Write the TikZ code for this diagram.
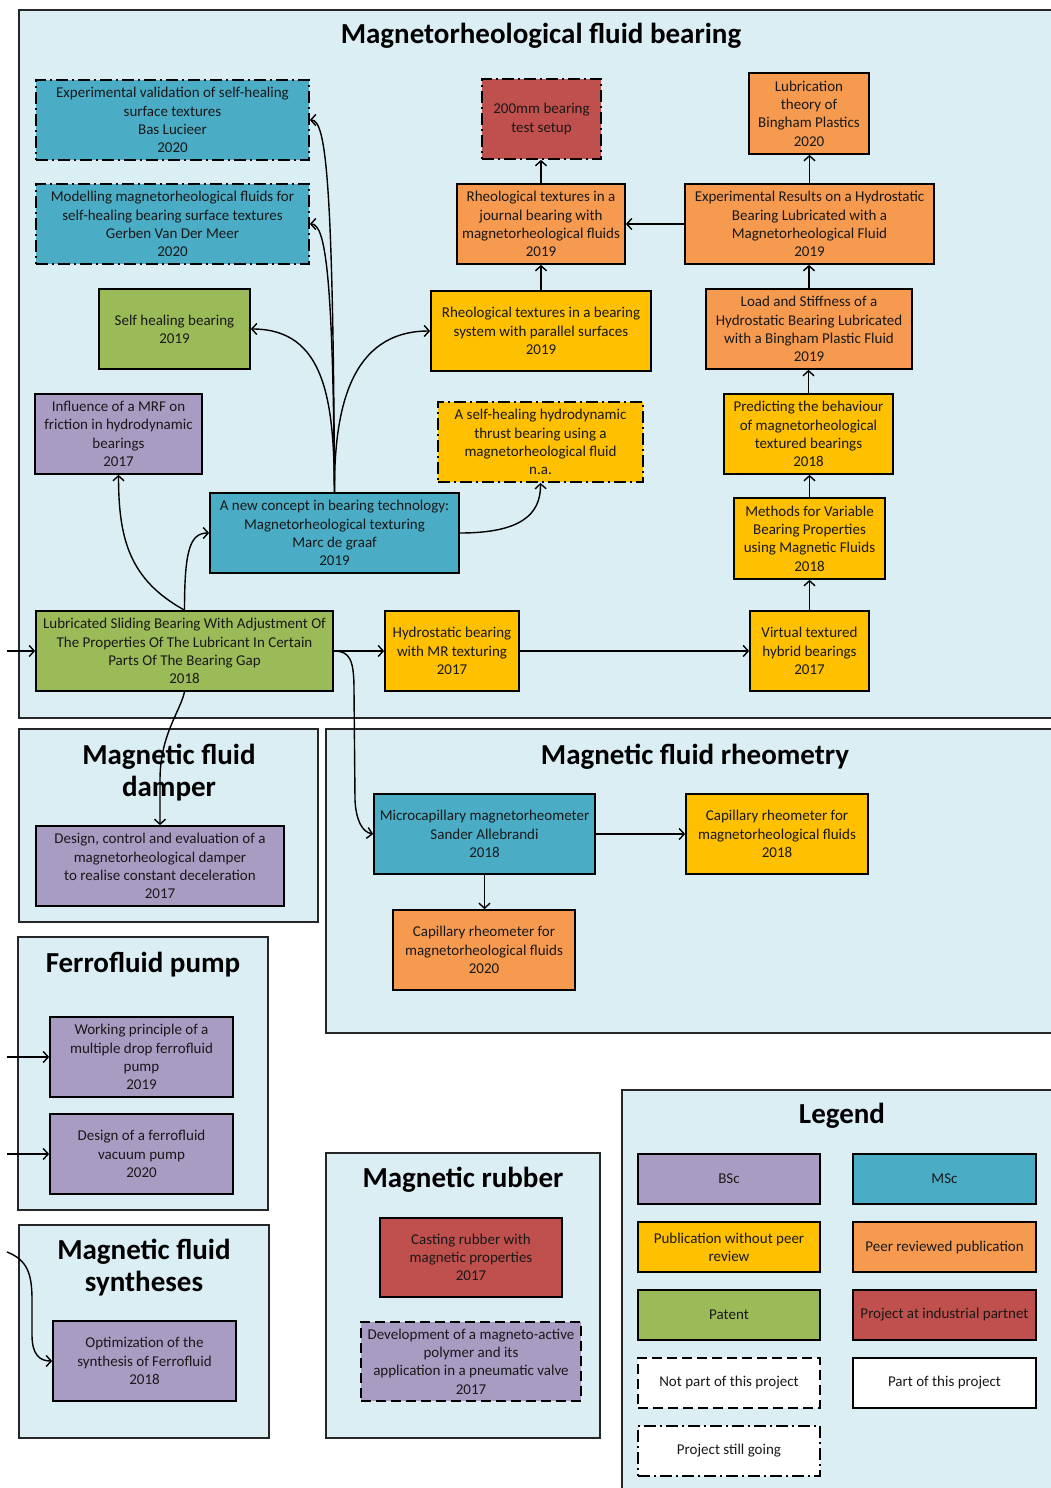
\documentclass[tikz,border=0pt]{standalone}
\usepackage{fontspec}
\setmainfont{Carlito}
\usetikzlibrary{arrows.meta}
\definecolor{bgblue}{HTML}{DAEEF3}
\definecolor{bsc}{HTML}{A99CC2}
\definecolor{msc}{HTML}{4BACC6}
\definecolor{pubyel}{HTML}{FFC000}
\definecolor{peerorg}{HTML}{F69A50}
\definecolor{patgreen}{HTML}{9BBB59}
\definecolor{indred}{HTML}{C0504D}
\newcommand\mkbox[7]{\node[#2, minimum width={#5-#3}, minimum height={#6-#4}] (#1) at ({(#3+#5)/2},{(#4+#6)/2}) {#7};}
\tikzset{
  cont/.style={draw=black!85, line width=1.5pt, fill=bgblue},
  box/.style={draw=black, line width=1.7pt, align=center, inner sep=0pt, text=black!90,
    font=\fontsize{15}{18.3}\selectfont},
  bscb/.style={box, fill=bsc},
  mscb/.style={box, fill=msc},
  yelb/.style={box, fill=pubyel},
  orgb/.style={box, fill=peerorg},
  greb/.style={box, fill=patgreen},
  redb/.style={box, fill=indred},
  whtb/.style={box, fill=white},
  dashdotb/.style={dash pattern=on 12pt off 4pt on 2pt off 4pt},
  dashb/.style={dash pattern=on 10pt off 5pt},
  ttl/.style={font=\fontsize{29}{32}\selectfont\bfseries, align=center, inner sep=0pt},
  arr/.style={line width=1.4pt, -{Straight Barb[length=5pt,width=11pt,line width=1.4pt]}},
}
\begin{document}
\begin{tikzpicture}[x=1pt,y=-1pt]
\clip (0,0) rectangle (1051,1488);
\fill[white] (0,0) rectangle (1051,1488);
% containers
\draw[cont] (19,10) rectangle (1070,718);
\draw[cont] (19,729) rectangle (318,922);
\draw[cont] (326,729) rectangle (1070,1033);
\draw[cont] (18,937) rectangle (268,1210);
\draw[cont] (19,1225) rectangle (269,1438);
\draw[cont] (326,1153) rectangle (600,1438);
\draw[cont] (622,1090) rectangle (1070,1500);
% titles
\node[ttl] (t1) at (541,36) {Magnetorheological fluid bearing};
\node[ttl] (t2) at (169,773) {Magnetic fluid\\damper};
\node[ttl] (t3) at (695,757) {Magnetic fluid rheometry};
\node[ttl] (t4) at (143,965) {Ferrofluid pump};
\node[ttl] (t5) at (144,1268) {Magnetic fluid\\syntheses};
\node[ttl] (t6) at (463,1180) {Magnetic rubber};
\node[ttl] (t7) at (842,1116) {Legend};
% bearing nodes
\mkbox{expval}{mscb,dashdotb}{36}{80}{309}{160}{Experimental validation of self-healing\\surface textures\\Bas Lucieer\\2020}
\mkbox{modelling}{mscb,dashdotb}{36}{184}{309}{264}{Modelling magnetorheological fluids for\\self-healing bearing surface textures\\Gerben Van Der Meer\\2020}
\mkbox{selfheal}{greb}{99}{289}{250}{369}{Self healing bearing\\2019}
\mkbox{influence}{bscb}{35}{394}{202}{474}{Influence of a MRF on\\friction in hydrodynamic\\bearings\\2017}
\mkbox{newconcept}{mscb}{210}{493}{459}{573}{A new concept in bearing technology:\\Magnetorheological texturing\\Marc de graaf\\2019}
\mkbox{lubsliding}{greb}{36}{611}{333}{691}{Lubricated Sliding Bearing With Adjustment Of\\The Properties Of The Lubricant In Certain\\Parts Of The Bearing Gap\\2018}
\mkbox{hydroMR}{yelb}{385}{611}{519}{691}{Hydrostatic bearing\\with MR texturing\\2017}
\mkbox{virtual}{yelb}{750}{611}{869}{691}{Virtual textured\\hybrid bearings\\2017}
\mkbox{methods}{yelb}{734}{498}{885}{579}{Methods for Variable\\Bearing Properties\\using Magnetic Fluids\\2018}
\mkbox{predicting}{yelb}{724}{394}{893}{474}{Predicting the behaviour\\of magnetorheological\\textured bearings\\2018}
\mkbox{load}{orgb}{706}{289}{912}{369}{Load and Stiffness of a\\Hydrostatic Bearing Lubricated\\with a Bingham Plastic Fluid\\2019}
\mkbox{expresults}{orgb}{685}{184}{934}{264}{Experimental Results on a Hydrostatic\\Bearing Lubricated with a\\Magnetorheological Fluid\\2019}
\mkbox{lubtheory}{orgb}{749}{73}{869}{154}{Lubrication\\theory of\\Bingham Plastics\\2020}
\mkbox{journal}{orgb}{457}{184}{625}{264}{Rheological textures in a\\journal bearing with\\magnetorheological fluids\\2019}
\mkbox{mmbearing}{redb,dashdotb}{482}{79}{601}{159}{200mm bearing\\test setup}
\mkbox{parallel}{yelb}{431}{291}{651}{371}{Rheological textures in a bearing\\system with parallel surfaces\\2019}
\mkbox{shhydro}{yelb,dashdotb}{438}{402}{643}{482}{A self-healing hydrodynamic\\thrust bearing using a\\magnetorheological fluid\\n.a.}
% other groups
\mkbox{damper}{bscb}{36}{826}{284}{906}{Design, control and evaluation of a\\magnetorheological damper\\to realise constant deceleration\\2017}
\mkbox{micro}{mscb}{374}{794}{595}{874}{Microcapillary magnetorheometer\\Sander Allebrandi\\2018}
\mkbox{capA}{yelb}{686}{794}{868}{874}{Capillary rheometer for\\magnetorheological fluids\\2018}
\mkbox{capB}{orgb}{393}{910}{575}{990}{Capillary rheometer for\\magnetorheological fluids\\2020}
\mkbox{working}{bscb}{50}{1017}{233}{1097}{Working principle of a\\multiple drop ferrofluid\\pump\\2019}
\mkbox{vacuum}{bscb}{50}{1114}{233}{1194}{Design of a ferrofluid\\vacuum pump\\2020}
\mkbox{optim}{bscb}{53}{1321}{236}{1401}{Optimization of the\\synthesis of Ferrofluid\\2018}
\mkbox{casting}{redb}{380}{1218}{562}{1297}{Casting rubber with\\magnetic properties\\2017}
\mkbox{develop}{bscb,dashb}{361}{1322}{581}{1401}{Development of a magneto-active\\polymer and its\\application in a pneumatic valve\\2017}
% legend
\mkbox{lgA}{bscb}{638}{1154}{820}{1204}{BSc}
\mkbox{lgB}{mscb}{853}{1154}{1036}{1204}{MSc}
\mkbox{lgC}{yelb}{638}{1222}{820}{1272}{Publication without peer\\review}
\mkbox{lgD}{orgb}{853}{1222}{1036}{1272}{Peer reviewed publication}
\mkbox{lgE}{greb}{638}{1290}{820}{1340}{Patent}
\mkbox{lgF}{redb}{853}{1290}{1036}{1340}{Project at industrial partnet}
\mkbox{lgG}{whtb,dashb}{638}{1358}{820}{1408}{Not part of this project}
\mkbox{lgH}{whtb}{853}{1358}{1036}{1408}{Part of this project}
\mkbox{lgI}{whtb,dashdotb}{638}{1426}{820}{1476}{Project still going}
% free ends
\coordinate (inA) at (7,651);
\coordinate (inB) at (7,1057);
\coordinate (inC) at (7,1154);
\coordinate (inD) at (7,1252);
% connectors
\draw[arr] (inA) -- (lubsliding.west);
\draw[arr] (lubsliding.east) -- (hydroMR.west);
\draw[arr] (hydroMR.east) -- (virtual.west);
\draw[arr] (virtual.north) -- (virtual.north |- methods.south);
\draw[arr] (methods.north) -- (methods.north |- predicting.south);
\draw[arr] (predicting.north) -- (predicting.north |- load.south);
\draw[arr] (load.north) -- (load.north |- expresults.south);
\draw[arr] (expresults.north) -- (expresults.north |- lubtheory.south);
\draw[arr] (expresults.west) -- (journal.east);
\draw[arr] (parallel.north) -- (parallel.north |- journal.south);
\draw[arr] (journal.north) -- (journal.north |- mmbearing.south);
\draw[arr] (newconcept.north) .. controls (333,180) and (326,120) .. (expval.east);
\draw[arr] (newconcept.north) .. controls (333,280) and (326,224) .. (modelling.east);
\draw[arr] (newconcept.north) .. controls (334,400) and (325,329) .. (selfheal.east);
\draw[arr] (newconcept.north) .. controls (334,410) and (350,331) .. (parallel.west);
\draw[arr] (newconcept.east) .. controls (520,533) and (541,515) .. (shhydro.south);
\draw[arr] (lubsliding.north) .. controls (130,580) and (118.5,540) .. (influence.south);
\draw[arr] (lubsliding.north) .. controls (184.5,550) and (190,533) .. (newconcept.west);
\draw[arr] (lubsliding.south) .. controls (180,712) and (160,735) .. (160,780) -- (damper.north);
\draw[arr] (lubsliding.east) .. controls (350,651) and (354,660) .. (354,690) -- (355,800) .. controls (356,820) and (362,832) .. (micro.west);
\draw[arr] (micro.east) -- (capA.west);
\draw[arr] (micro.south) -- (micro.south |- capB.north);
\draw[arr] (inB) -- (working.west);
\draw[arr] (inC) -- (vacuum.west);
\draw[arr] (inD) .. controls (28,1260) and (32,1275) .. (32,1300) -- (32,1335) .. controls (32,1355) and (40,1361) .. (optim.west);
\end{tikzpicture}
\end{document}
